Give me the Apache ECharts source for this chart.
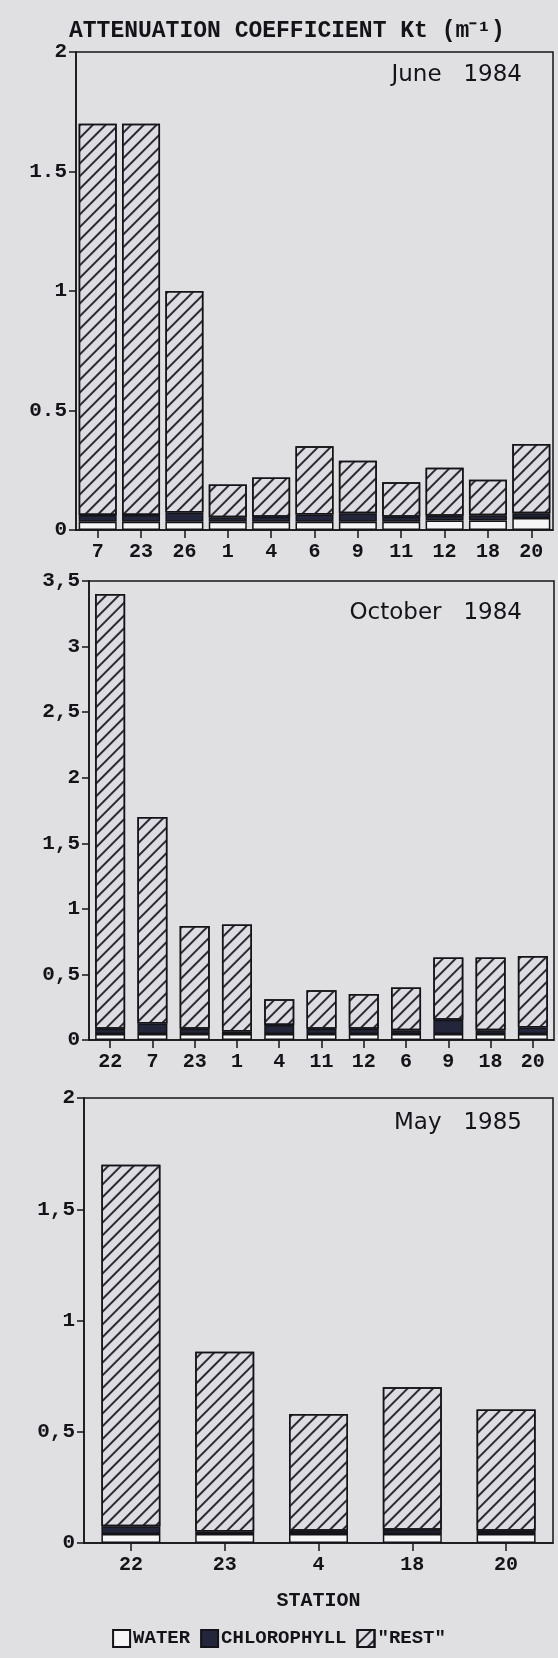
<!DOCTYPE html>
<html>
<head>
<meta charset="utf-8">
<script src="https://cdn.jsdelivr.net/npm/echarts@6/dist/echarts.min.js"></script>
<style>
  html, body { margin: 0; padding: 0; background: #e0e0e3; }
  #view { width: 558px; height: 1658px; }
</style>
</head>
<body>
<div id="view"></div>
<script>
// June 1984
var juneStations = ['7', '23', '26', '1', '4', '6', '9', '11', '12', '18', '20'];
var juneWater = [0.035, 0.035, 0.035, 0.035, 0.035, 0.035, 0.035, 0.035, 0.04, 0.04, 0.05];
var juneChl = [0.028, 0.028, 0.038, 0.018, 0.02, 0.03, 0.035, 0.02, 0.02, 0.022, 0.02];
var juneRest = [1.637, 1.637, 0.927, 0.137, 0.165, 0.285, 0.22, 0.145, 0.2, 0.148, 0.29];

// October 1984
var octStations = ['22', '7', '23', '1', '4', '11', '12', '6', '9', '18', '20'];
var octWater = [0.045, 0.045, 0.045, 0.045, 0.045, 0.045, 0.045, 0.045, 0.045, 0.045, 0.045];
var octChl = [0.04, 0.08, 0.04, 0.02, 0.07, 0.04, 0.04, 0.03, 0.11, 0.03, 0.05];
var octRest = [3.315, 1.575, 0.785, 0.815, 0.195, 0.295, 0.265, 0.325, 0.475, 0.555, 0.545];

// May 1985
var mayStations = ['22', '23', '4', '18', '20'];
var mayWater = [0.04, 0.04, 0.04, 0.04, 0.04];
var mayChl = [0.035, 0.012, 0.015, 0.02, 0.015];
var mayRest = [1.625, 0.808, 0.525, 0.64, 0.545];

var panelNames = ['June   1984', 'October   1984', 'May   1985'];

var myChart = echarts.init(document.getElementById('view'));

var ink = '#141418';
var paper = '#dcdce2';
var tickFont = { color: ink, fontFamily: 'Liberation Mono', fontWeight: 'bold', fontSize: 21 };

// diagonal "/" hatching for the "rest" part
var hatch = {
    symbol: 'rect',
    symbolSize: 1,
    color: '#2a2a30',
    dashArrayX: [1, 0],
    dashArrayY: [1.2, 7],
    rotation: -Math.PI / 4
};

function yAxis(idx, max, sep) {
    return {
        type: 'value', gridIndex: idx, min: 0, max: max, interval: 0.5,
        axisLine: { show: true, lineStyle: { color: ink, width: 1.5 } },
        axisTick: { show: true, inside: false, length: 7, lineStyle: { color: ink, width: 1.5 } },
        splitLine: { show: false },
        axisLabel: Object.assign({ margin: 9, formatter: function (v) { return String(v).replace('.', sep); } }, tickFont)
    };
}

function xAxis(idx, cats) {
    return {
        type: 'category', gridIndex: idx, data: cats,
        axisLine: { show: true, lineStyle: { color: ink, width: 1.5 } },
        axisTick: { show: true, alignWithLabel: true, length: 8, lineStyle: { color: ink, width: 1.5 } },
        axisLabel: Object.assign({ margin: 12, interval: 0 }, tickFont, { fontSize: 20 })
    };
}

function stack(idx, water, chl, rest, width) {
    var base = { type: 'bar', xAxisIndex: idx, yAxisIndex: idx, stack: 'p' + idx, barWidth: width };
    return [
        Object.assign({ name: 'WATER', data: water,
            itemStyle: { color: '#f6f6f6', borderColor: ink, borderWidth: 1.5 } }, base),
        Object.assign({ name: 'CHLOROPHYLL', data: chl,
            itemStyle: { color: '#23253a', borderColor: ink, borderWidth: 1.5 } }, base),
        Object.assign({ name: '"REST"', data: rest,
            itemStyle: { color: paper, borderColor: ink, borderWidth: 1.5, decal: hatch } }, base)
    ];
}

var option = {
    backgroundColor: '#e0e0e3',
    animation: false,
    title: [
        { text: 'ATTENUATION COEFFICIENT Kt (m⁻¹)', left: 64, top: 15,
          textStyle: { color: ink, fontFamily: 'Liberation Mono', fontWeight: 'bold', fontSize: 23 } },
        { text: panelNames[0], right: 31, top: 59,
          textStyle: { color: ink, fontFamily: 'DejaVu Sans', fontWeight: 'normal', fontSize: 23 } },
        { text: panelNames[1], right: 31, top: 597,
          textStyle: { color: ink, fontFamily: 'DejaVu Sans', fontWeight: 'normal', fontSize: 23 } },
        { text: panelNames[2], right: 31, top: 1107,
          textStyle: { color: ink, fontFamily: 'DejaVu Sans', fontWeight: 'normal', fontSize: 23 } }
    ],
    legend: {
        data: ['WATER', 'CHLOROPHYLL', '"REST"'],
        left: 'center', top: 1624,
        icon: 'rect', itemWidth: 17, itemHeight: 17, itemGap: 10,
        textStyle: { color: ink, fontFamily: 'Liberation Mono', fontWeight: 'bold', fontSize: 19, padding: [0, 0, 0, -2] }
    },
    grid: [
        { left: 76, right: 5, top: 52, height: 478, show: true, borderColor: ink, borderWidth: 1.5, outerBoundsMode: 'none' },
        { left: 89, right: 4, top: 581, height: 459, show: true, borderColor: ink, borderWidth: 1.5, outerBoundsMode: 'none' },
        { left: 84, right: 5, top: 1098, height: 445, show: true, borderColor: ink, borderWidth: 1.5, outerBoundsMode: 'none' }
    ],
    xAxis: [
        xAxis(0, juneStations),
        xAxis(1, octStations),
        Object.assign(xAxis(2, mayStations), {
            name: 'STATION', nameLocation: 'middle', nameGap: 48,
            nameTextStyle: { color: ink, fontFamily: 'Liberation Mono', fontWeight: 'bold', fontSize: 20 }
        })
    ],
    yAxis: [
        yAxis(0, 2, '.'),
        yAxis(1, 3.5, ','),
        yAxis(2, 2, ',')
    ],
    series: [].concat(
        stack(0, juneWater, juneChl, juneRest, 38),
        stack(1, octWater, octChl, octRest, 30),
        stack(2, mayWater, mayChl, mayRest, 59)
    )
};

myChart.setOption(option);
</script>
</body>
</html>
